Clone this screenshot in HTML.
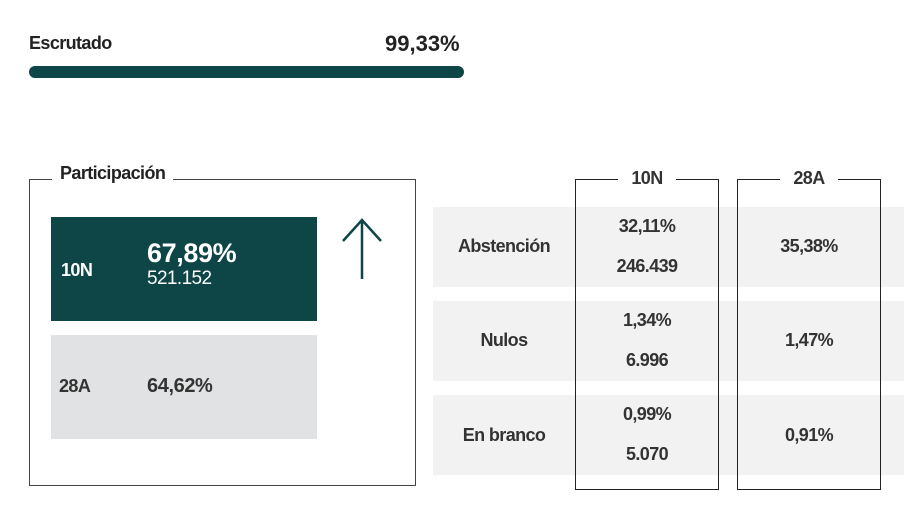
<!DOCTYPE html>
<html><head><meta charset="utf-8"><style>
*{margin:0;padding:0;box-sizing:border-box}
body{width:904px;height:523px;background:#fff;position:relative;overflow:hidden;font-family:"Liberation Sans",Arial,sans-serif;color:#333}
.a{position:absolute}
.t{font-size:18px;font-weight:bold;letter-spacing:-0.6px;color:#333}
.c{text-align:center}
</style></head><body>
<div class="a t" style="left:29px;top:33px;color:#222">Escrutado</div>
<div class="a" style="left:385px;top:31px;font-size:22px;font-weight:bold;color:#222;letter-spacing:0px">99,33%</div>
<div class="a" style="left:29px;top:66px;width:435px;height:12px;border-radius:6px;background:#0e4546"></div>

<div class="a" style="left:29px;top:179px;width:387px;height:307px;border:1.5px solid #444"></div>
<div class="a t" style="left:52px;top:163px;background:#fff;padding:0 8px;color:#222">Participación</div>
<div class="a" style="left:51px;top:217px;width:266px;height:104px;background:#0e4546;color:#fff">
<div class="a t" style="left:10px;top:43px;color:#fff">10N</div>
<div class="a" style="left:96px;top:21px;font-size:27px;font-weight:bold;letter-spacing:-0.4px">67,89%</div>
<div class="a t" style="left:96px;top:51px;color:#fff;font-weight:normal;font-size:19px">521.152</div>
</div>
<div class="a" style="left:51px;top:335px;width:266px;height:104px;background:#e0e2e3;color:#222">
<div class="a t" style="left:8px;top:41px">28A</div>
<div class="a" style="left:96px;top:40px;font-size:20px;font-weight:bold;letter-spacing:-0.4px;color:#333">64,62%</div>
</div>
<svg class="a" style="left:340px;top:215px" width="46" height="66"><path d="M22 64V5M3 26L22 5L41 26" fill="none" stroke="#0e4546" stroke-width="2.5"/></svg>

<div class="a" style="left:433px;top:207px;width:471px;height:80px;background:#f2f2f2"></div>
<div class="a" style="left:433px;top:301px;width:471px;height:80px;background:#f2f2f2"></div>
<div class="a" style="left:433px;top:395px;width:471px;height:80px;background:#f2f2f2"></div>

<div class="a" style="left:575px;top:179px;width:144px;height:311px;border:1.5px solid #222"></div>
<div class="a" style="left:737px;top:179px;width:144px;height:311px;border:1.5px solid #222"></div>
<div class="a t c" style="left:618px;top:168px;width:58px;background:#fff">10N</div>
<div class="a t c" style="left:780px;top:168px;width:58px;background:#fff">28A</div>

<div class="a t c" style="left:433px;top:236px;width:142px">Abstención</div>
<div class="a t c" style="left:433px;top:330px;width:142px">Nulos</div>
<div class="a t c" style="left:433px;top:425px;width:142px">En branco</div>

<div class="a t c" style="left:575px;top:216px;width:144px">32,11%</div>
<div class="a t c" style="left:575px;top:256px;width:144px">246.439</div>
<div class="a t c" style="left:575px;top:310px;width:144px">1,34%</div>
<div class="a t c" style="left:575px;top:350px;width:144px">6.996</div>
<div class="a t c" style="left:575px;top:404px;width:144px">0,99%</div>
<div class="a t c" style="left:575px;top:444px;width:144px">5.070</div>

<div class="a t c" style="left:737px;top:236px;width:144px">35,38%</div>
<div class="a t c" style="left:737px;top:330px;width:144px">1,47%</div>
<div class="a t c" style="left:737px;top:425px;width:144px">0,91%</div>
</body></html>
